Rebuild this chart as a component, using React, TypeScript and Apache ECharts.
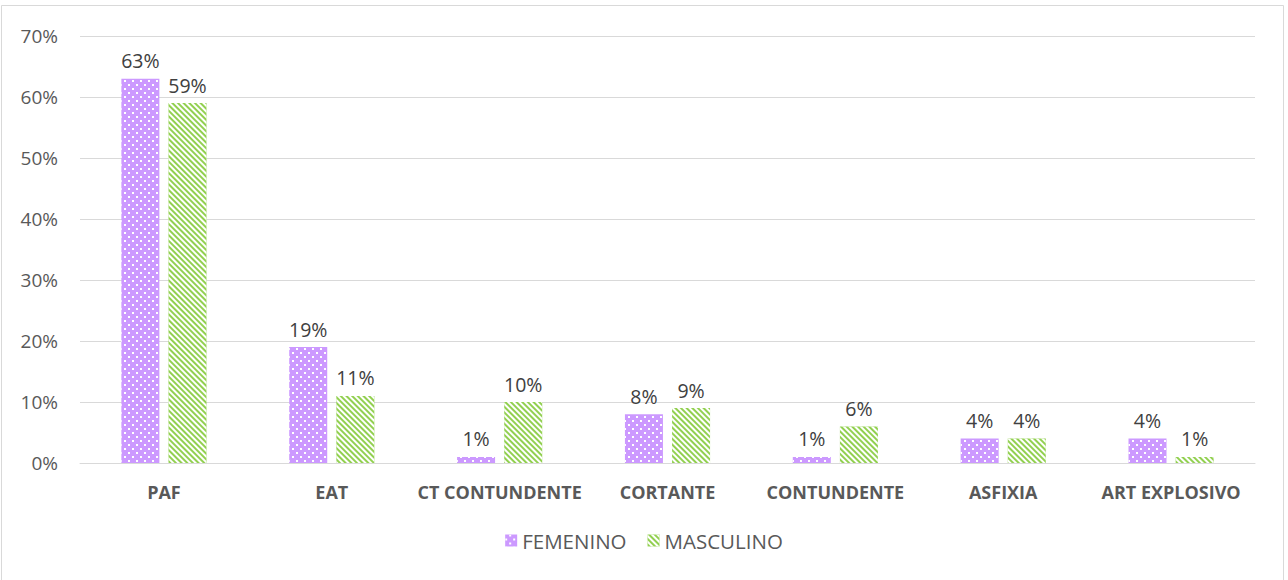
import React, { useEffect, useRef } from "react";
import * as echarts from "echarts";

const categories = ["PAF", "EAT", "CT CONTUNDENTE", "CORTANTE", "CONTUNDENTE", "ASFIXIA", "ART EXPLOSIVO"];
const femenino = [63, 19, 1, 8, 1, 4, 4];
const masculino = [59, 11, 10, 9, 6, 4, 1];
const yTicks = [0, 10, 20, 30, 40, 50, 60, 70];

const FONT = "'Open Sans', 'Noto Sans', sans-serif";

export default function App() {
  const ref = useRef<HTMLDivElement>(null);
  useEffect(() => {
    const chart = echarts.init(ref.current!, null, { renderer: "svg" });
    const dotDecal = {
      symbol: "rect",
      symbolSize: 1,
      color: "#ffffff",
      dashArrayX: [[2, 6], [0, 4, 2, 2]],
      dashArrayY: [2, 2],
      rotation: 0,
    };
    const stripeDecal = {
      symbol: "rect",
      symbolSize: 1,
      color: "#ffffff",
      dashArrayX: [1, 0],
      dashArrayY: [2, 2],
      rotation: Math.PI / 4,
    };
    const labelStyle = {
      show: true,
      position: "top",
      distance: 8,
      formatter: "{c}%",
      fontSize: 19.5,
      color: "#404040",
      fontFamily: FONT,
    };
    chart.setOption({
      animation: false,
      backgroundColor: "#ffffff",
      textStyle: { fontFamily: FONT },
      graphic: [
        {
          type: "rect",
          shape: { x: 1.5, y: 5.5, width: 1282, height: 590 },
          style: { fill: "none", stroke: "#d9d9d9", lineWidth: 1 },
          silent: true,
        },
      ],
      grid: { left: 80, right: 33, top: 36, bottom: 117, containLabel: false },
      legend: {
        bottom: 24,
        left: "center",
        itemWidth: 12,
        itemHeight: 12,
        itemGap: 21,
        icon: "rect",
        textStyle: { fontSize: 20.5, color: "#595959", fontFamily: FONT },
        data: ["FEMENINO", "MASCULINO"],
      },
      xAxis: {
        type: "category",
        data: categories,
        axisLine: { lineStyle: { color: "#d9d9d9", width: 1 } },
        axisTick: { show: false },
        axisLabel: {
          interval: 0,
          color: "#595959",
          fontSize: 18,
          fontWeight: "bold",
          margin: 20,
          fontFamily: FONT,
        },
      },
      yAxis: {
        type: "value",
        min: yTicks[0],
        max: yTicks[yTicks.length - 1],
        interval: 10,
        axisLine: { show: false },
        axisTick: { show: false },
        splitLine: { lineStyle: { color: "#d9d9d9", width: 1 } },
        axisLabel: {
          color: "#595959",
          fontSize: 19,
          margin: 22,
          formatter: (v: number) => v + "%",
          fontFamily: FONT,
        },
      },
      series: [
        {
          name: "FEMENINO",
          type: "bar",
          data: femenino,
          barWidth: 38,
          barGap: "24%",
          itemStyle: { color: "#cc99ff", decal: dotDecal },
          label: labelStyle,
        },
        {
          name: "MASCULINO",
          type: "bar",
          data: masculino,
          barWidth: 38,
          itemStyle: { color: "#92d050", decal: stripeDecal },
          label: labelStyle,
        },
      ],
    });
    return () => chart.dispose();
  }, []);
  return (
    <div
      ref={ref}
      style={{ position: "absolute", left: 0, top: 0, width: 1288, height: 580 }}
    />
  );
}
